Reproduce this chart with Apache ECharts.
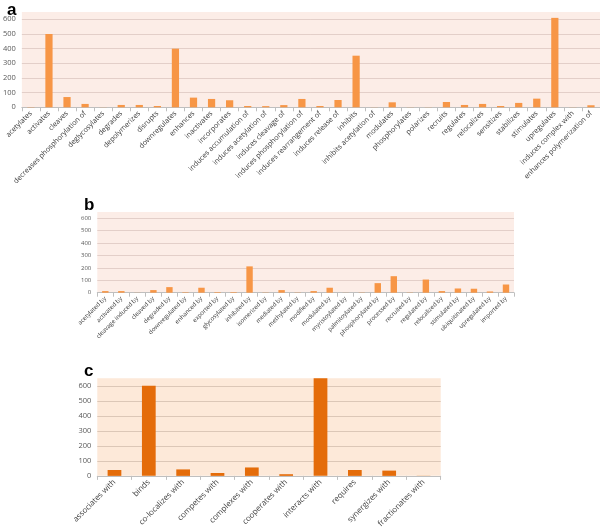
<!DOCTYPE html>
<html><head><meta charset="utf-8">
<script src="https://cdn.jsdelivr.net/npm/echarts@6/dist/echarts.min.js"></script>
<style>html,body{margin:0;padding:0;background:#fff}#c{width:600px;height:530px}</style>
</head><body><div id="c"></div>
<script>
var catsA = ["acetylates","activates","cleaves","decreases phosphorylation of","deglycosylates","degrades","depolymerizes","disrupts","downregulates","enhances","inactivates","incorporates","induces accumulation of","induces acetylation of","induces cleavage of","induces phosphorylation of","induces rearrangement of","induces release of","inhibits","inhibits acetylation of","modulates","phosphorylates","polarizes","recruits","regulates","relocalizes","sensitizes","stabilizes","stimulates","upregulates","induces complex with","enhances polymerization of"];
var valsA = [2,500,70,23,1,16,16,9,400,66,57,48,9,8,15,57,9,50,352,1,34,1,1,36,16,23,9,30,59,610,1,14];
var catsB = ["acetylated by","activated by","cleavage induced by","cleaved by","degraded by","downregulated by","enhanced by","exported by","glycosylated by","inhibited by","isomerized by","mediated by","methylated by","modified by","modulated by","myristoylated by","palmitoylated by","phosphorylated by","processed by","recruited by","regulated by","relocalized by","stimulated by","ubiquitinated by","upregulated by","imported by"];
var valsB = [13,13,1,21,45,4,40,5,5,212,2,21,2,13,40,1,2,77,133,2,106,13,34,32,10,66];
var catsC = ["associates with","binds","co-localizes with","competes with","complexes with","cooperates with","interacts with","requires","synergizes with","fractionates with"];
var valsC = [39,600,43,19,56,11,650,39,35,1];
var yTicks = [0,100,200,300,400,500,600];

var chart = echarts.init(document.getElementById('c'), null, {renderer:'canvas'});
var FONT = '"Open Sans", "Liberation Sans", sans-serif';
function gridLineColors(c){ var a=[]; for(var i=0;i<yTicks.length;i++)a.push(c); a.push('rgba(0,0,0,0)'); return a; }
function yAx(idx, fs, gc){
  return {type:'value', gridIndex:idx, min:0, max:650, interval:100,
    axisLine:{show:false}, axisTick:{show:false},
    axisLabel:{fontSize:fs, color:'#595959', fontFamily:FONT, margin:6,
      formatter:function(v){ return yTicks.indexOf(v)>=0 ? String(v) : ''; }},
    splitLine:{show:true, lineStyle:{color:gridLineColors(gc), width:1}}};
}
function xAx(idx, cats, fs){
  return {type:'category', gridIndex:idx, data:cats,
    axisLine:{show:true, lineStyle:{color:'#BFBFBF', width:1}},
    axisTick:{show:true, length:4, lineStyle:{color:'#BFBFBF'}},
    axisLabel:{interval:0, rotate:45, fontSize:fs, color:'#404040', fontFamily:FONT, margin:5}};
}
chart.setOption({
  animation:false,
  title:[
    {text:'a', left:2, top:-3, textStyle:{fontSize:17, fontWeight:'bold', color:'#000', fontFamily:'"Liberation Sans", Arial, sans-serif'}},
    {text:'b', left:79, top:192, textStyle:{fontSize:17, fontWeight:'bold', color:'#000', fontFamily:'"Liberation Sans", Arial, sans-serif'}},
    {text:'c', left:79, top:358, textStyle:{fontSize:17, fontWeight:'bold', color:'#000', fontFamily:'"Liberation Sans", Arial, sans-serif'}}
  ],
  grid:[
    {left:20, right:0, top:12, bottom:422.7, show:true, backgroundColor:'#FCEDE7', borderWidth:0},
    {left:97.3, right:86, top:212, bottom:237.3, show:true, backgroundColor:'#FCEDE7', borderWidth:0},
    {left:97.3, right:159.3, top:378.3, bottom:51.7, show:true, backgroundColor:'#FDE9D9', borderWidth:0}
  ],
  xAxis:[xAx(0,catsA,7.2), xAx(1,catsB,6), xAx(2,catsC,8)],
  yAxis:[yAx(0,7.5,'#E3CFC9'), yAx(1,6,'#E3CFC9'), yAx(2,7.5,'#DCC7B7')],
  series:[
    {type:'bar', xAxisIndex:0, yAxisIndex:0, data:valsA, barWidth:'40%', itemStyle:{color:'#F79646'}},
    {type:'bar', xAxisIndex:1, yAxisIndex:1, data:valsB, barWidth:'40%', itemStyle:{color:'#F79646'}},
    {type:'bar', xAxisIndex:2, yAxisIndex:2, data:valsC, barWidth:'40%', itemStyle:{color:'#E46C0A'}}
  ]
});
</script></body></html>
